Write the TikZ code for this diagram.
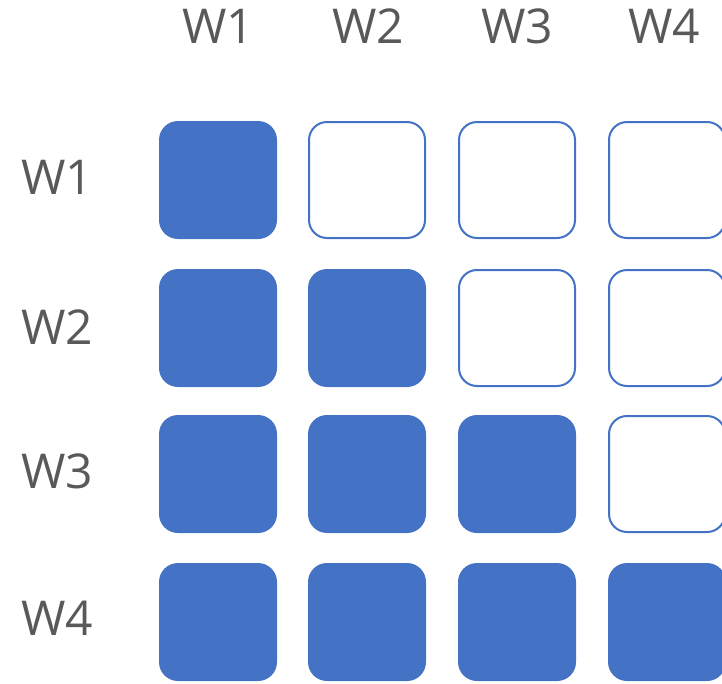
\documentclass[tikz,border=0pt]{standalone}
\usepackage{fontspec}
\setmainfont{Open Sans}
\definecolor{boxblue}{HTML}{4472C4}
\definecolor{txtgrey}{HTML}{595959}
\begin{document}
\begin{tikzpicture}[x=1pt,y=-1pt,
  cell/.style={minimum width=116pt,minimum height=116pt,rounded corners=18pt,draw=boxblue,line width=2pt,inner sep=0pt},
  filled/.style={cell,fill=boxblue},
  empty/.style={cell,fill=white},
  lbl/.style={text=txtgrey,font=\fontsize{48}{48}\selectfont,inner sep=0pt}]
\useasboundingbox (0,0) rectangle (722,683);
\clip (0,0) rectangle (722,683);
% headers
\node[lbl] (h1) at (218,26) {W1};
\node[lbl] (h2) at (368,26) {W2};
\node[lbl] (h3) at (517,26) {W3};
\node[lbl] (h4) at (664,26) {W4};
\node[lbl] (r1) at (57,177) {W1};
\node[lbl] (r2) at (57,327) {W2};
\node[lbl] (r3) at (57,471) {W3};
\node[lbl] (r4) at (57,618) {W4};
% row 1
\node[filled] (c11) at (218,180) {};
\node[empty] (c12) at (367,180) {};
\node[empty] (c13) at (517,180) {};
\node[empty] (c14) at (667,180) {};
% row 2
\node[filled] (c21) at (218,328) {};
\node[filled] (c22) at (367,328) {};
\node[empty] (c23) at (517,328) {};
\node[empty] (c24) at (667,328) {};
% row 3
\node[filled] (c31) at (218,474) {};
\node[filled] (c32) at (367,474) {};
\node[filled] (c33) at (517,474) {};
\node[empty] (c34) at (667,474) {};
% row 4
\node[filled] (c41) at (218,622) {};
\node[filled] (c42) at (367,622) {};
\node[filled] (c43) at (517,622) {};
\node[filled] (c44) at (667,622) {};
\end{tikzpicture}
\end{document}
